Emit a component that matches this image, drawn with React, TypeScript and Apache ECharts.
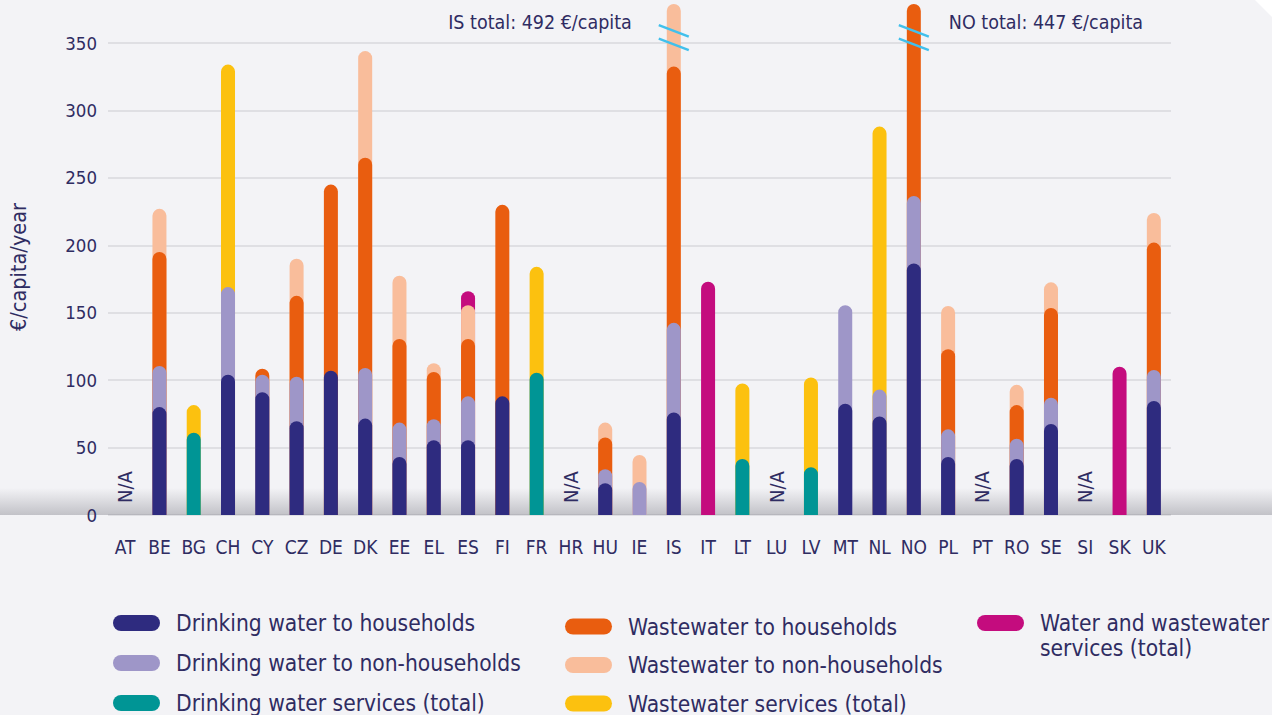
import React, { useEffect, useRef } from 'react';
import * as echarts from 'echarts';

const categories = ['AT', 'BE', 'BG', 'CH', 'CY', 'CZ', 'DE', 'DK', 'EE', 'EL', 'ES', 'FI', 'FR', 'HR', 'HU', 'IE', 'IS', 'IT', 'LT', 'LU', 'LV', 'MT', 'NL', 'NO', 'PL', 'PT', 'RO', 'SE', 'SI', 'SK', 'UK'];

// €/capita/year, one entry per category (null = not reported)
const dwHouseholds = [null, 80, null, 104, 91, 69.5, 107, 71.5, 43, 55.5, 55.5, 88, null, null, 23.5, null, 76, null, null, null, null, 82.5, 73, 186.5, 43, null, 41.5, 67.5, null, null, 84.5];
const dwNonHouseholds = [null, 30.5, null, 65, 13, 33, null, 37.5, 25.5, 15.5, 32.5, null, null, null, 10.5, 24.5, 66.5, null, null, null, null, 73, 20, 50, 20.5, null, 15, 19.5, null, null, 23];
const dwServices = [null, null, 61, null, null, null, null, null, null, null, null, null, 105.5, null, null, null, null, null, 41.5, null, 35.5, null, null, null, null, null, null, null, null, null, null];
const wwHouseholds = [null, 84.5, null, null, 4.5, 60, 138, 156, 62, 35, 42.5, 142, null, null, 23.5, null, 190, null, null, null, null, null, null, 210.5, 59.5, null, 25, 66.5, null, null, 94.5];
const wwNonHouseholds = [null, 32, null, null, null, 27.5, null, 79, 47, 6.5, 25, null, null, null, 11, 20, 159.5, null, null, null, null, null, null, null, 32, null, 15, 19, null, null, 22];
const wwServices = [null, null, 20.5, 165, null, null, null, null, null, null, null, null, 78.5, null, null, null, null, null, 56, null, 66.5, null, 195, null, null, null, null, null, null, null, null];
const waterTotal = [null, null, null, null, null, null, null, null, null, null, 10.5, null, null, null, null, null, null, 173, null, null, null, null, null, null, null, null, null, null, null, 110, null];

const seriesNames = [
  'Drinking water to households',
  'Drinking water to non-households',
  'Drinking water services (total)',
  'Wastewater to households',
  'Wastewater to non-households',
  'Wastewater services (total)',
  'Water and wastewater services (total)',
];
const seriesColors = ['#2e2b7f', '#9e96c8', '#009595', '#e95d0f', '#f9bd9b', '#fcc10f', '#c40c7e'];

const yMax = 350;
const yInterval = 50;
const breakCap = 379; // bars above the axis are drawn broken up to this value
const naLabel = 'N/A';

const TEXT = '#2f2c62';
const FONT = "'DejaVu Sans Condensed', 'DejaVu Sans', sans-serif";
const PILL = 'path://M8,0 L39,0 A8,8 0 0 1 39,16 L8,16 A8,8 0 0 1 8,0 Z';

export default function App() {
  const ref = useRef<HTMLDivElement>(null);

  useEffect(() => {
    document.body.style.margin = '0';
    const chart = echarts.init(ref.current!, null, { renderer: 'svg' });
    const comps = [dwHouseholds, dwNonHouseholds, dwServices, wwHouseholds, wwNonHouseholds, wwServices, waterTotal];
    const tops: (number | null)[][] = comps.map(() => categories.map(() => null));
    const totals: number[] = categories.map(() => 0);
    categories.forEach((_, i) => {
      let run = 0;
      comps.forEach((arr, k) => {
        const v = arr[i];
        if (v != null) {
          run += v;
          tops[k][i] = Math.min(run, breakCap);
        }
      });
      totals[i] = run;
    });

    const series = comps.map((_, k) => ({
      name: seriesNames[k],
      type: 'bar',
      barWidth: 14,
      barGap: '-100%',
      clip: false,
      z: 10 - k,
      itemStyle: { color: seriesColors[k], borderRadius: [7, 7, 0, 0] },
      emphasis: { disabled: true },
      data: tops[k],
    }));

    const legendBase = {
      orient: 'vertical',
      itemWidth: 47,
      itemHeight: 16,
      icon: PILL,
      padding: 0,
      height: 140,
      width: 400,
      selectedMode: false,
    };
    const legendText = { fontSize: 22.6, lineHeight: 22, color: TEXT, fontFamily: FONT, padding: [0, 0, 0, 11] };

    chart.setOption({
      animation: false,
      backgroundColor: '#f3f3f6',
      textStyle: { fontFamily: FONT },
      grid: { left: 108, right: 101, top: 43, bottom: 200, outerBoundsMode: 'none' },
      xAxis: {
        type: 'category',
        data: categories,
        axisLine: { show: false },
        axisTick: { show: false },
        axisLabel: { interval: 0, fontSize: 19, color: TEXT, margin: 22, fontFamily: FONT },
      },
      yAxis: {
        type: 'value',
        min: 0,
        max: yMax,
        interval: yInterval,
        name: '€/capita/year',
        nameLocation: 'middle',
        nameGap: 79,
        nameTextStyle: { fontSize: 21.5, color: TEXT, fontFamily: FONT, padding: [0, 0, 0, 24] },
        axisLine: { show: false },
        axisTick: { show: false },
        axisLabel: { fontSize: 18.5, color: TEXT, margin: 11, fontFamily: FONT },
        splitLine: { lineStyle: { color: '#d9d9dd', width: 1.5 } },
      },
      legend: [
        { ...legendBase, left: 113, top: 611.5, itemGap: 17, data: seriesNames.slice(0, 3), textStyle: legendText },
        { ...legendBase, left: 565, top: 615, itemGap: 15.5, data: seriesNames.slice(3, 6), textStyle: legendText },
        { ...legendBase, left: 977, top: 585.5, width: 295, itemGap: 16, data: [seriesNames[6]],
          formatter: () => '\nWater and wastewater\nservices (total)',
          textStyle: { ...legendText, lineHeight: 25 } },
      ],
      series,
    });

    const px = (i: number, v: number) => chart.convertToPixel({ xAxisIndex: 0, yAxisIndex: 0 }, [i, v]) as number[];
    const y0 = px(0, 0)[1];
    const graphics: any[] = [
      {
        type: 'rect', silent: true, z: 0,
        shape: { x: 0, y: y0 - 27, width: 1272, height: 27 },
        style: {
          fill: new echarts.graphic.LinearGradient(0, 0, 0, 1, [
            { offset: 0, color: 'rgba(120,120,130,0)' },
            { offset: 1, color: 'rgba(120,120,130,0.4)' },
          ]),
        },
      },
      { type: 'polygon', silent: true, shape: { points: [[1255, 0], [1272, 0], [1272, 17]] }, style: { fill: '#ffffff' } },
    ];
    categories.forEach((c, i) => {
      const hasData = comps.some((arr) => arr[i] != null);
      const [cx] = px(i, 0);
      if (!hasData) {
        graphics.push({
          type: 'text', x: cx, y: y0 - 12, rotation: Math.PI / 2, z: 20,
          style: { text: naLabel, fontSize: 20, fill: TEXT, fontFamily: FONT, align: 'left', verticalAlign: 'middle' },
        });
      }
      if (totals[i] > yMax) {
        [359, 349].forEach((bv) => {
          const [, by] = px(i, bv);
          graphics.push({
            type: 'line', z: 20, silent: true,
            shape: { x1: cx - 15, y1: by - 5.7, x2: cx + 15, y2: by + 5.7 },
            style: { stroke: '#41c0ec', lineWidth: 2.5 },
          });
        });
        const onLeft = c === 'IS';
        const [, ty] = px(i, 365);
        graphics.push({
          type: 'text', z: 20,
          x: onLeft ? cx - 42 : cx + 35, y: ty,
          style: {
            text: `${c} total: ${Math.round(totals[i])} €/capita`,
            fontSize: 19.5, fill: TEXT, fontFamily: FONT,
            align: onLeft ? 'right' : 'left', verticalAlign: 'middle',
          },
        });
      }
    });
    chart.setOption({ graphic: graphics });

    return () => chart.dispose();
  }, []);

  return <div ref={ref} style={{ width: 1272, height: 715 }} />;
}
